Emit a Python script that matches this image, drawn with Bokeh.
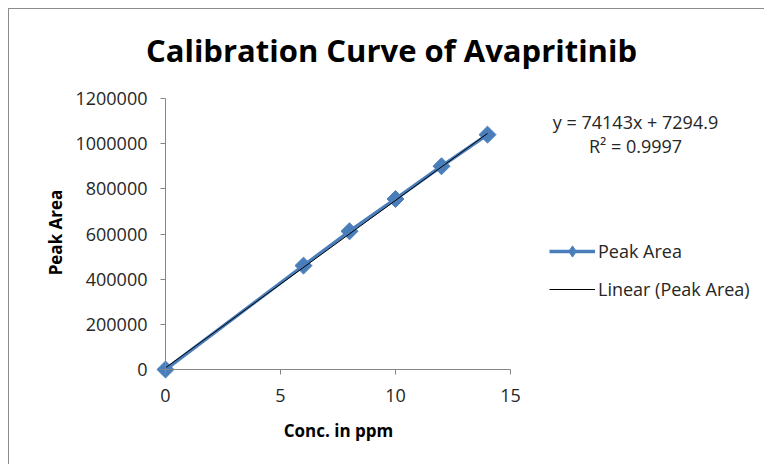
import numpy as np
from bokeh.plotting import figure
from bokeh.models import Label, Legend, LegendItem, FixedTicker, Range1d
from bokeh.embed import file_html
from bokeh.resources import INLINE

# data
conc = [0, 6, 8, 10, 12, 14]
peak_area = [0, 460000, 612000, 755000, 900000, 1040000]
slope = 74143
intercept = 7294.9
r_squared = 0.9997
x_ticks = [0, 5, 10, 15]
y_ticks = [0, 200000, 400000, 600000, 800000, 1000000, 1200000]

FONT = "Open Sans"
BLUE = "#4a7ebb"

# layout (pixels): plot frame covers the whole canvas, axes sit at x=0 / y=0
W, H = 756, 456
ORIGIN_X, ORIGIN_Y = 156, 96       # origin position from canvas left / bottom
PX_PER_X = 23.0                    # 15 units -> 345 px
PX_PER_Y = 271.0 / 1200000
xs0 = -ORIGIN_X / PX_PER_X
ys0 = -ORIGIN_Y / PX_PER_Y

p = figure(width=W, height=H, output_backend="svg", toolbar_location=None,
           x_range=Range1d(xs0, xs0 + W / PX_PER_X),
           y_range=Range1d(ys0, ys0 + H / PX_PER_Y),
           min_border_left=0, min_border_right=0, min_border_top=0,
           min_border_bottom=0)
p.styles = {"margin-left": "8px", "margin-top": "8px",
            "border-left": "1px solid #8c8c8c", "border-top": "1px solid #8c8c8c"}
p.outline_line_color = None
p.grid.visible = False
p.background_fill_color = "white"
p.border_fill_color = "white"

for ax in (p.xaxis[0], p.yaxis[0]):
    ax.axis_line_color = "#868686"
    ax.major_tick_line_color = "#868686"
    ax.major_tick_in = 0
    ax.major_tick_out = 5
    ax.minor_tick_line_color = None
    ax.major_label_text_font = FONT
    ax.major_label_text_font_size = "18px"
    ax.major_label_text_color = "#262626"
    ax.fixed_location = 0

p.xaxis.ticker = FixedTicker(ticks=x_ticks)
p.yaxis.ticker = FixedTicker(ticks=y_ticks)
p.xaxis.bounds = (x_ticks[0], x_ticks[-1])
p.yaxis.bounds = (y_ticks[0], y_ticks[-1])
p.yaxis.formatter.use_scientific = False
p.xaxis.major_label_standoff = 14
p.yaxis.major_label_standoff = 13

# series
ln = p.line(conc, peak_area, line_color=BLUE, line_width=3.5)
sc = p.scatter(conc, peak_area, marker="square", angle=np.pi / 4, size=12,
               fill_color=BLUE, line_color=BLUE)
# legend-only diamond (legend glyphs are never rotated); its single row is NaN, so nothing is plotted
leg_marker = p.scatter([np.nan], [np.nan], marker="diamond", fill_color=BLUE, line_color=BLUE)

# trend line
xt = np.array([min(conc), max(conc)], dtype=float)
yt = slope * xt + intercept
tl = p.line(xt, yt, line_color="black", line_width=1)

legend = Legend(items=[LegendItem(label="Peak Area", renderers=[ln, leg_marker]),
                       LegendItem(label="Linear (Peak Area)", renderers=[tl])],
                location=(540, 162))
legend.border_line_color = None
legend.background_fill_alpha = 0
legend.margin = 0
legend.padding = 0
legend.spacing = 10
legend.glyph_width = 46
legend.glyph_height = 28
legend.label_height = 20
legend.label_standoff = 3
legend.label_text_font = FONT
legend.label_text_font_size = "18px"
legend.label_text_color = "#262626"
p.add_layout(legend)

def add_text(txt, sx, sy, size, bold=False, color="#262626", angle=0.0):
    p.add_layout(Label(x=sx, y=sy, x_units="screen", y_units="screen", text=txt,
                       text_font=FONT, text_font_size=size,
                       text_font_style="bold" if bold else "normal",
                       text_align="center", text_baseline="middle",
                       text_color=color, angle=angle))

add_text("Calibration Curve of Avapritinib", 382, 416, "31px", bold=True, color="black")
add_text(f"y = {slope}x + {intercept}", 626, 344, "18px")
add_text(f"R² = {r_squared}", 626, 320, "18px")
add_text("Peak Area", 46, 233, "17px", bold=True, color="black", angle=np.pi / 2)
add_text("Conc. in ppm", 329, 35, "17px", bold=True, color="black")

open("out.html", "w").write(file_html(p, INLINE))
